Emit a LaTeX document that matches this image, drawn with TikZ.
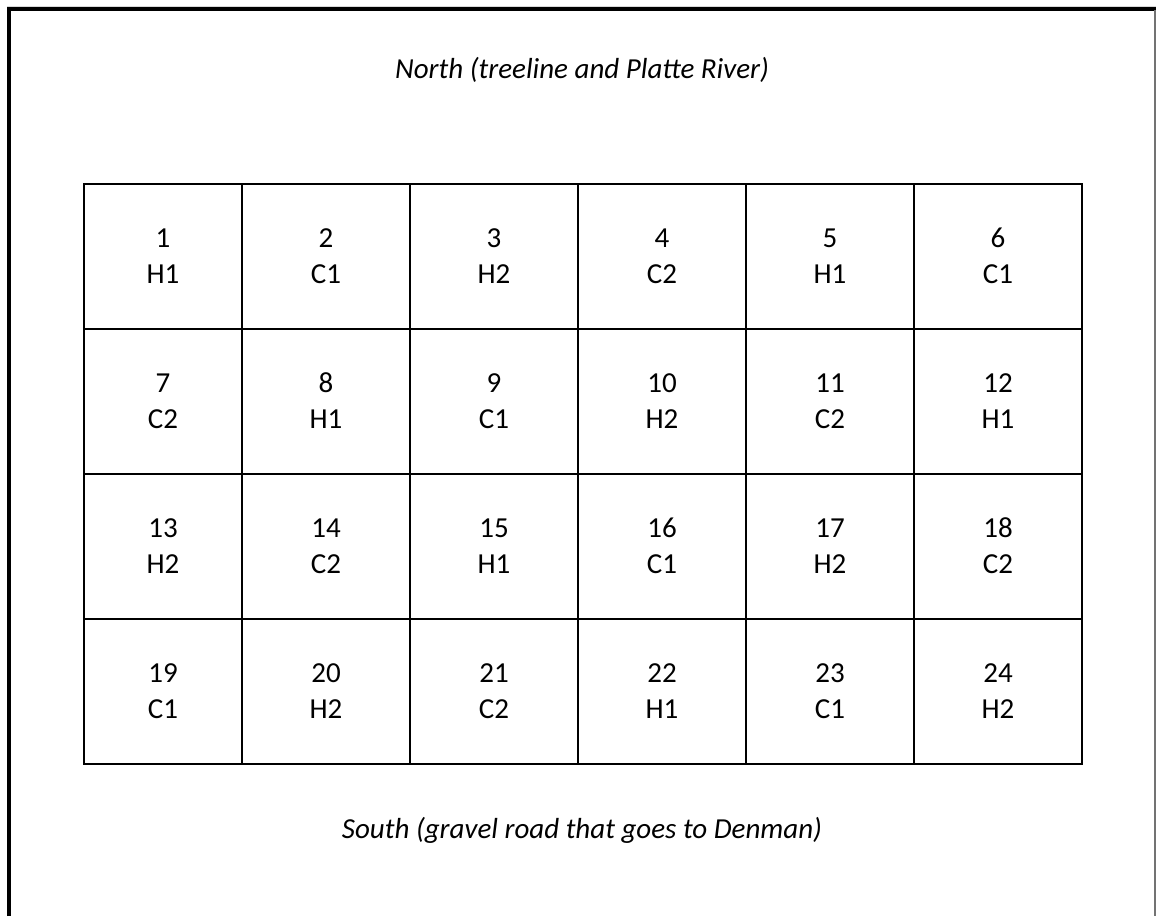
\documentclass[tikz,border=0pt]{standalone}
\usepackage{fontspec}
\setmainfont{Carlito}
\usetikzlibrary{positioning}

\begin{document}
\begin{tikzpicture}[x=1pt,y=-1pt]
\tikzset{plot/.style={draw,line width=2pt,inner sep=0pt,minimum height=145pt,align=center,font=\fontsize{29}{36}\selectfont},
  side/.style={font=\fontsize{29}{35}\selectfont\itshape}}
\useasboundingbox (0,0) rectangle (1156,916);
% frame of the page
\draw[line width=1pt,black!15] (7,6) -- (1156,6);
\draw[line width=4.5pt] (9,916) -- (9,9) -- (1156,9);
\draw[line width=1.2pt,black!55] (1155,10) -- (1155,916);
% plots, row by row
\foreach \n/\t [count=\k from 0] in {1/H1,2/C1,3/H2,4/C2,5/H1,6/C1,7/C2,8/H1,9/C1,10/H2,11/C2,12/H1,13/H2,14/C2,15/H1,16/C1,17/H2,18/C2,19/C1,20/H2,21/C2,22/H1,23/C1,24/H2}{
  \pgfmathtruncatemacro{\col}{mod(\k,6)}
  \pgfmathtruncatemacro{\row}{int(\k/6)}
  \ifnum\col=0
    \node[plot,minimum width=158pt] (p\n) at (163,256+145*\row) {\n\\\t};
  \else
    \node[plot,minimum width=168pt] (p\n) at (158+168*\col,256+145*\row) {\n\\\t};
  \fi
}
\node[side] (north) at (582,70) {North (treeline and Platte River)};
\node[side] (south) at (582,830) {South (gravel road that goes to Denman)};
\end{tikzpicture}
\end{document}
